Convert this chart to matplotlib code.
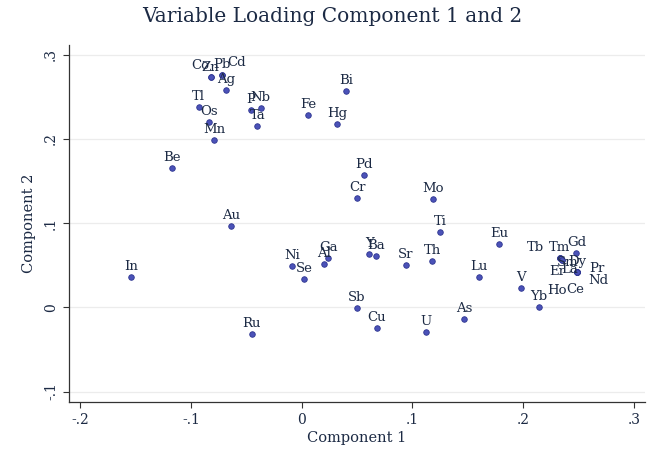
import matplotlib
matplotlib.use("Agg")
import matplotlib.pyplot as plt

# Element names and loadings (Component 1, Component 2)
elements = ["In", "Be", "Au", "Ru", "Ni", "Se", "Al", "Ga", "Y", "Ba",
            "Sr", "Th", "Ti", "Sb", "Cu", "U", "As", "Mo", "Pd", "Cr",
            "Lu", "Eu", "V", "Yb", "Tm", "Tb", "Sm", "Er", "Gd", "Dy",
            "La", "Pr", "Nd", "Ce", "Ho", "Co", "Zn", "Pb", "Cd", "Ag",
            "Tl", "Os", "Mn", "P", "Nb", "Ta", "Fe", "Bi", "Hg"]
comp1 = [-0.154, -0.117, -0.064, -0.045, -0.009, 0.002, 0.020, 0.024, 0.061, 0.067,
         0.094, 0.118, 0.125, 0.050, 0.068, 0.112, 0.147, 0.119, 0.056, 0.050,
         0.160, 0.178, 0.198, 0.214, 0.233, 0.233, 0.235, 0.233, 0.248, 0.249,
         0.249, 0.249, 0.249, 0.249, 0.235, -0.082, -0.082, -0.072, -0.072, -0.068,
         -0.093, -0.084, -0.079, -0.046, -0.037, -0.040, 0.006, 0.040, 0.032]
comp2 = [0.036, 0.165, 0.097, -0.032, 0.049, 0.034, 0.051, 0.059, 0.063, 0.061,
         0.050, 0.055, 0.089, -0.001, -0.025, -0.029, -0.014, 0.129, 0.157, 0.130,
         0.036, 0.075, 0.023, 0.000, 0.059, 0.059, 0.056, 0.059, 0.064, 0.042,
         0.042, 0.042, 0.042, 0.042, 0.056, 0.273, 0.273, 0.276, 0.276, 0.258,
         0.238, 0.220, 0.199, 0.234, 0.237, 0.215, 0.228, 0.257, 0.218]

xticks = [-0.2, -0.1, 0, 0.1, 0.2, 0.3]
xticklabels = ["-.2", "-.1", "0", ".1", ".2", ".3"]
yticks = [-0.1, 0, 0.1, 0.2, 0.3]
yticklabels = ["-.1", "0", ".1", ".2", ".3"]

# label offsets in pixels (dx, dy up) for crowded labels; default is above
label_offsets = {
    "Co": (-11, 12), "Zn": (-1, 10), "Cd": (15, 12),
    "Tb": (-24, 10), "Sm": (6, -2), "Er": (-3, -14), "La": (-8, 2),
    "Pr": (19, 3), "Nd": (21, -9), "Ce": (-2, -18), "Ho": (-5, -30),
}
default_offset = (0, 10.5)

SERIF = ["DejaVu Serif"]
txt_color = "#1c2a44"
dot_color = "#4b52b8"

fig = plt.figure(figsize=(6.65, 4.73), dpi=100)
fig.patch.set_facecolor("white")
ax = fig.add_axes([0.1038, 0.150, 0.8662, 0.755])
ax.set_xlim(-0.21, 0.31)
ax.set_ylim(-0.1125, 0.3115)

for yt in yticks:
    ax.axhline(yt, color="#ececec", lw=0.9, zorder=0)

ax.scatter(comp1, comp2, s=16, color=dot_color, edgecolor="#2e3590",
           linewidth=0.6, zorder=3)

px2pt = 0.72
for name, x, y in zip(elements, comp1, comp2):
    dx, dy = label_offsets.get(name, default_offset)
    ax.annotate(name, (x, y), xytext=(dx * px2pt, dy * px2pt),
                textcoords="offset points", ha="center", va="center",
                fontsize=9.5, family=SERIF, color=txt_color, zorder=4)

ax.set_xticks(xticks)
ax.set_xticklabels(xticklabels, family=SERIF, fontsize=10, color=txt_color)
ax.set_yticks(yticks)
ax.set_yticklabels(yticklabels, family=SERIF, fontsize=10, color=txt_color,
                   rotation=90, va="center")
ax.tick_params(direction="out", length=4, width=0.8, color="#333333", pad=4)
for s in ["top", "right"]:
    ax.spines[s].set_visible(False)
for s in ["left", "bottom"]:
    ax.spines[s].set_color("#333333")
    ax.spines[s].set_linewidth(0.9)

ax.set_xlabel("Component 1", family=SERIF, fontsize=10.5, color=txt_color, labelpad=3)
ax.set_ylabel("Component 2", family=SERIF, fontsize=10.5, color=txt_color, labelpad=6)
fig.text(0.5, 0.965, "Variable Loading Component 1 and 2", ha="center", va="center",
         family=SERIF, fontsize=14.5, color=txt_color)

fig.savefig("out.png", dpi=100, facecolor="white")
